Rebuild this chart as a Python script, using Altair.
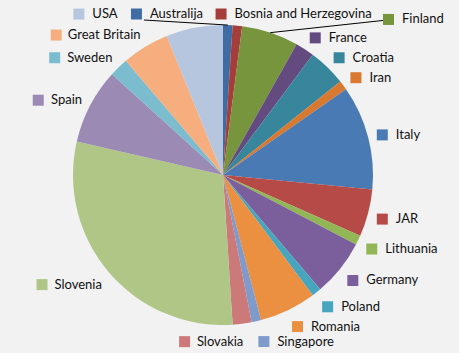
import math
import altair as alt
import pandas as pd

countries = ["Australija", "Bosnia and Herzegovina", "Finland", "France", "Croatia",
             "Iran", "Italy", "JAR", "Lithuania", "Germany", "Poland", "Romania",
             "Singapore", "Slovakia", "Slovenia", "Spain", "Sweden", "Great Britain", "USA"]
values = [1, 1, 6, 2, 4, 1, 11, 5, 1, 6, 1, 6, 1, 2, 29, 8, 2, 5, 6]
colors = ["#3F6CA3", "#A53E3B", "#77953D", "#634B80", "#37869C", "#D9782F",
          "#4A7AB3", "#B64A47", "#92B556", "#7B5E9C", "#47A6BE", "#EB8F41",
          "#7E9BCB", "#CC7A79", "#AFC686", "#9B8AB4", "#7BBCCF", "#F6AE7E", "#B6C6DE"]

# ---- layout constants ----
W, H = 459, 353
CX, CY, R = 223, 175, 150
LR = 159        # label anchor radius
SPLIT = 170     # degrees: labels past this angle sit left of their anchor
TOPY = 27       # labels whose anchor is above this form a row over the pie
GAP = 14        # gap between labels in that row
SHIFT = 25      # horizontal offset of that row
STEP = 15       # minimum vertical spacing of side labels
FONT = "Lato"
FS = 13

# approximate Lato advance widths (em)
_EM = dict(zip("abcdefghijklmnopqrstuvwxyz",
               [.49, .56, .46, .56, .52, .31, .50, .55, .23, .23, .49, .23, .83,
                .55, .55, .55, .56, .35, .41, .33, .55, .49, .74, .48, .49, .44]))
_EM.update(zip("ABCDEFGHIJKLMNOPQRSTUVWXYZ",
               [.66, .62, .66, .74, .54, .52, .71, .75, .28, .38, .63, .47, .90,
                .75, .78, .58, .78, .60, .51, .56, .72, .66, 1.0, .62, .60, .59]))
_EM[" "] = .25


def text_w(s):
    return sum(_EM.get(ch, .55) for ch in s) * FS


# label layout derived from the slice angles
total = sum(values)
rows = []
cum = 0
for i, (c, v) in enumerate(zip(countries, values)):
    a = (cum + v / 2) / total * 2 * math.pi
    cum += v
    rows.append(dict(
        country=c, value=v, order=i, a=a,
        px=CX + LR * math.sin(a),
        y0=CY - (LR + 7) * math.cos(a) + 2,
        ex=CX + R * math.sin(a),
        ey=CY - R * math.cos(a),
        tw=text_w(c),
    ))

# labels above the pie: one row, left to right
top = [r for r in rows if r["y0"] < TOPY]
top.sort(key=lambda r: r["a"] + (2 * math.pi if r["a"] < math.pi else 0))
if top:
    tot = sum(r["tw"] + 19 + GAP for r in top) - GAP
    mpx = sum(r["px"] for r in top) / len(top)
    left = mpx + SHIFT - tot / 2
    for r in top:
        r["istop"] = True
        r["bx"] = left
        left += r["tw"] + 19 + GAP

# right-hand labels: keep a minimum vertical spacing, top to bottom
prev = None
for r in sorted(rows, key=lambda r: r["a"]):
    if r.get("istop") or r["a"] >= math.radians(SPLIT):
        continue
    if prev is not None and r["y0"] < prev + STEP:
        r["y0"] = prev + STEP
    prev = r["y0"]

for r in rows:
    istop = r.get("istop", False)
    side_right = r["a"] < math.radians(SPLIT)
    r["ly"] = max(r["y0"], 14) if istop else r["y0"]
    r["lx2"] = r["ex"]
    r["ly2"] = r["ey"]
    if istop or side_right:
        r["al"] = "L"
        bx = r["bx"] if istop else r["px"]
        r["tx"] = bx + 19
        r["sx"] = bx + 5.5
        right_of = bx > r["ex"]
        left_of = bx + r["tw"] + 19 < r["ex"]
        r["lead"] = int(istop and r["a"] < math.pi and (right_of or left_of))
        if right_of:
            r["lx2"], r["ly2"] = bx, r["ly"] + 1
        elif left_of:
            r["lx2"], r["ly2"] = bx + 13, r["ly"] + 6
    else:
        r["al"] = "R"
        r["tx"] = r["px"]
        r["sx"] = r["px"] - r["tw"] - 13.5
        r["lead"] = 0

df = pd.DataFrame(rows)

xs = alt.Scale(domain=[0, W], range=[0, W], nice=False, zero=False)
ys = alt.Scale(domain=[0, H], range=[0, H], nice=False, zero=False)
cscale = alt.Scale(domain=countries, range=colors)

base = alt.Chart(df)

pie = base.mark_arc(outerRadius=R).encode(
    theta=alt.Theta("value:Q", stack=True),
    order=alt.Order("order:Q"),
    color=alt.Color("country:N", scale=cscale, legend=None),
    x=alt.value(CX), y=alt.value(CY),
)

leaders = base.transform_filter("datum.lead == 1").mark_rule(color="#000000", strokeWidth=1).encode(
    x=alt.X("ex:Q", scale=xs, axis=None),
    y=alt.Y("ey:Q", scale=ys, axis=None),
    x2=alt.X2("lx2"),
    y2=alt.Y2("ly2"),
)

squares = base.mark_square(size=121, opacity=1, filled=True).encode(
    x=alt.X("sx:Q", scale=xs, axis=None),
    y=alt.Y("ly:Q", scale=ys, axis=None),
    color=alt.Color("country:N", scale=cscale, legend=None),
)

text_l = base.transform_filter("datum.al == 'L'").mark_text(
    align="left", baseline="middle", font=FONT, fontSize=FS, color="#111111"
).encode(
    x=alt.X("tx:Q", scale=xs, axis=None),
    y=alt.Y("ly:Q", scale=ys, axis=None),
    text="country:N",
)
text_r = base.transform_filter("datum.al == 'R'").mark_text(
    align="right", baseline="middle", font=FONT, fontSize=FS, color="#111111"
).encode(
    x=alt.X("tx:Q", scale=xs, axis=None),
    y=alt.Y("ly:Q", scale=ys, axis=None),
    text="country:N",
)

chart = alt.layer(pie, leaders, squares, text_l, text_r).properties(
    width=W, height=H, padding=0, autosize="none", background="#F2F2F2"
).configure_view(stroke=None)

chart.save("out.html", embed_options={"renderer": "svg", "actions": False})
